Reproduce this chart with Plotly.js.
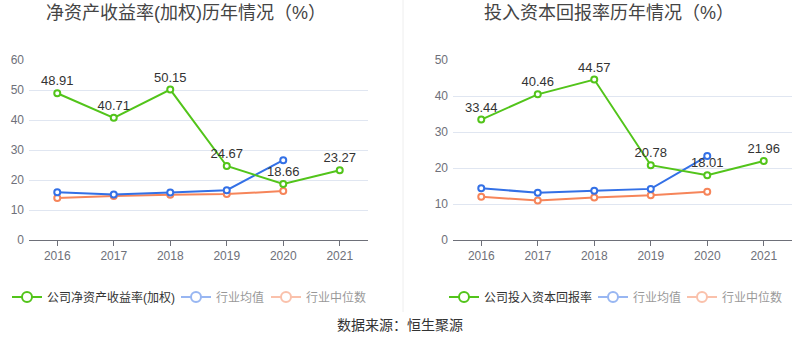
<!DOCTYPE html>
<html>
<head>
<meta charset="utf-8">
<script src="https://cdn.plot.ly/plotly-3.0.1.min.js"></script>
<style>
html,body{margin:0;padding:0;background:#fff;}
#chart{width:800px;height:358px;}
</style>
</head>
<body>
<div id="chart"></div>
<script>
// ---- data ----
const years = ['2016','2017','2018','2019','2020','2021'];
const roeCompany = [48.91, 40.71, 50.15, 24.67, 18.66, 23.27];
const roeIndustryAvg = [15.9, 15.2, 15.8, 16.6, 26.6, null];
const roeIndustryMedian = [14.0, 14.7, 15.1, 15.3, 16.3, null];
const roicCompany = [33.44, 40.46, 44.57, 20.78, 18.01, 21.96];
const roicIndustryAvg = [14.4, 13.1, 13.7, 14.2, 23.3, null];
const roicIndustryMedian = [12.0, 11.0, 11.8, 12.4, 13.4, null];
const roeTicks = [0, 10, 20, 30, 40, 50, 60];
const roicTicks = [0, 10, 20, 30, 40, 50];

const W = 800, H = 358;
const GREEN = '#52c41a', BLUE = '#3370e6', ORANGE = '#f6855a';
const FONT = '"Liberation Sans", "Noto Sans CJK SC", sans-serif';

function px(x){return x/W;}
function py(y){return (H-y)/H;}

function line(x, y, color, name, xa, ya, withText){
  return {
    type:'scatter', mode: withText ? 'lines+markers+text' : 'lines+markers',
    x:x, y:y, name:name, xaxis:xa, yaxis:ya,
    line:{color:color, width:2},
    marker:{size:6, color:'#fff', line:{color:color, width:2}},
    text: withText ? y.map(v=>v.toFixed(2)) : undefined,
    textposition:'top center',
    textfont:{size:13, color:'#333', family:FONT},
    cliponaxis:false, hoverinfo:'x+y', showlegend:false
  };
}
// legend entries (each in its own legend box so spacing can follow the reference)
function legendItem(color, name, legend, y, vis){
  return {
    type:'scatter', mode:'lines+markers', x:years, y:y, name:name,
    visible: vis, legend:legend,
    xaxis: vis === true ? 'x3' : 'x', yaxis: vis === true ? 'y3' : 'y',
    line:{color:color, width:2},
    marker:{size:10, color:'#fff', line:{color:color, width:2}},
    showlegend:true, hoverinfo:'skip'
  };
}

const traces = [
  line(years, roeIndustryMedian, ORANGE, '行业中位数', 'x', 'y'),
  line(years, roeIndustryAvg, BLUE, '行业均值', 'x', 'y'),
  line(years, roeCompany, GREEN, '公司净资产收益率(加权)', 'x', 'y', true),
  line(years, roicIndustryMedian, ORANGE, '行业中位数', 'x2', 'y2'),
  line(years, roicIndustryAvg, BLUE, '行业均值', 'x2', 'y2'),
  line(years, roicCompany, GREEN, '公司投入资本回报率', 'x2', 'y2', true),
  legendItem(GREEN, '公司净资产收益率(加权)', 'legend', roeCompany, true),
  legendItem(BLUE, '行业均值', 'legend2', roeIndustryAvg, 'legendonly'),
  legendItem(ORANGE, '行业中位数', 'legend3', roeIndustryMedian, 'legendonly'),
  legendItem(GREEN, '公司投入资本回报率', 'legend4', roicCompany, true),
  legendItem(BLUE, '行业均值', 'legend5', roicIndustryAvg, 'legendonly'),
  legendItem(ORANGE, '行业中位数', 'legend6', roicIndustryMedian, 'legendonly')
];

const axisX = {
  type:'category', range:[-0.5, 5.5], showgrid:false, zeroline:false,
  showline:true, linecolor:'#6e7079', linewidth:1,
  ticks:'outside', ticklen:5, tickcolor:'#6e7079',
  tickfont:{size:12, color:'#6e7079', family:FONT}, fixedrange:true
};
const axisY = {
  showgrid:true, gridcolor:'#e0e6f1', gridwidth:1, zeroline:false, showline:false,
  ticks:'', tickfont:{size:12, color:'#6e7079', family:FONT}, ticklabelstandoff:4, fixedrange:true
};
function leg(x){
  return {orientation:'h', xanchor:'left', x:px(x), y:py(297), yanchor:'middle',
    font:{size:12, color:'#333', family:FONT}, itemwidth:30,
    bgcolor:'rgba(0,0,0,0)', itemclick:false, itemdoubleclick:false};
}

const layout = {
  width:W, height:H, margin:{l:0,r:0,t:0,b:0},
  paper_bgcolor:'#fff', plot_bgcolor:'#fff',
  font:{family:FONT, color:'#333'},
  showlegend:true,
  xaxis:Object.assign({}, axisX, {domain:[px(29), px(368)], anchor:'y'}),
  yaxis:Object.assign({}, axisY, {domain:[py(240), py(60)], range:[0,60], tickvals:roeTicks, anchor:'x'}),
  xaxis2:Object.assign({}, axisX, {domain:[px(453), px(792)], anchor:'y2'}),
  yaxis2:Object.assign({}, axisY, {domain:[py(240), py(60)], range:[0,50], tickvals:roicTicks, anchor:'x2'}),
  // hidden helper subplot that only hosts the full-opacity legend entries
  xaxis3:{type:'category', domain:[0,0.01], anchor:'y3', visible:false, range:[100,101], fixedrange:true},
  yaxis3:{domain:[0,0.01], anchor:'x3', visible:false, range:[-1000,-999], fixedrange:true},
  legend:leg(7), legend2:leg(176), legend3:leg(266),
  legend4:leg(444), legend5:leg(593), legend6:leg(682),
  annotations:[
    {text:'净资产收益率(加权)历年情况（%）', x:px(186), y:py(13), xref:'paper', yref:'paper', showarrow:false,
      xanchor:'center', yanchor:'middle', font:{size:18, color:'#444', family:FONT}},
    {text:'投入资本回报率历年情况（%）', x:px(609), y:py(13), xref:'paper', yref:'paper', showarrow:false,
      xanchor:'center', yanchor:'middle', font:{size:18, color:'#444', family:FONT}},
    {text:'数据来源：恒生聚源', x:px(400), y:py(325), xref:'paper', yref:'paper', showarrow:false,
      xanchor:'center', yanchor:'middle', font:{size:14, color:'#333', family:FONT}}
  ],
  shapes:[
    {type:'line', xref:'paper', yref:'paper', x0:px(403), x1:px(403), y0:py(0), y1:py(312), line:{color:'#eeeeee', width:1}}
  ]
};

Plotly.newPlot('chart', traces, layout, {displayModeBar:false, staticPlot:true});
</script>
</body>
</html>
